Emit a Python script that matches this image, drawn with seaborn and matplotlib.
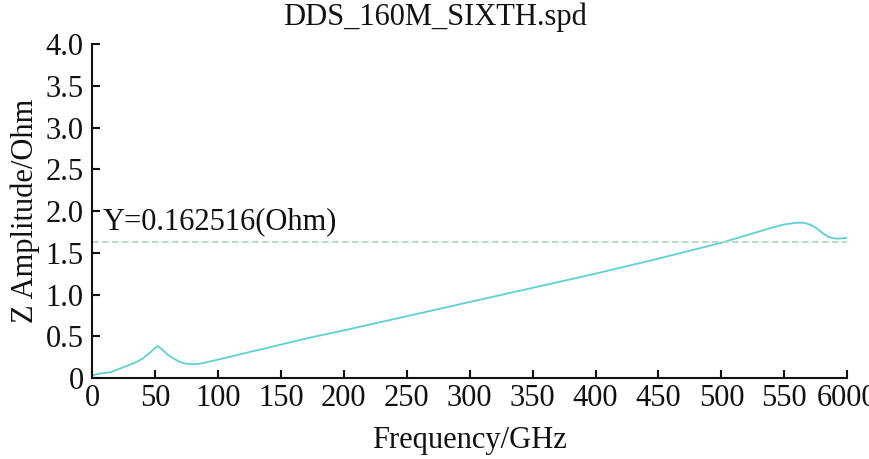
import matplotlib
matplotlib.use("Agg")
import matplotlib.pyplot as plt
import seaborn as sns
import pandas as pd

freq = [0, 5, 10, 15, 20, 25, 30, 35, 40, 45, 50, 52, 55, 60, 65, 70, 75, 80, 85, 90, 100,
        125, 150, 175, 200, 250, 300, 350, 400, 450, 500, 520, 540, 550, 560, 565, 570, 575, 580, 585, 590, 595, 600]
zamp = [0.03, 0.05, 0.06, 0.07, 0.10, 0.13, 0.16, 0.19, 0.23, 0.29, 0.36, 0.38, 0.35, 0.28, 0.23, 0.19, 0.17, 0.165, 0.17, 0.185, 0.22,
        0.31, 0.40, 0.49, 0.57, 0.74, 0.91, 1.08, 1.25, 1.43, 1.62, 1.71, 1.80, 1.84, 1.86, 1.86, 1.84, 1.80, 1.74, 1.69, 1.67, 1.67, 1.68]
ref_level = 1.625
ref_text = "Y=0.162516(Ohm)"
title = "DDS_160M_SIXTH.spd"
xticks = [0, 50, 100, 150, 200, 250, 300, 350, 400, 450, 500, 550, 600]
xticklabels = ["0", "50", "100", "150", "200", "250", "300", "350", "400", "450", "500", "550", "6000"]
yticks = [0, 0.5, 1.0, 1.5, 2.0, 2.5, 3.0, 3.5, 4.0]
yticklabels = ["0", "0.5", "1.0", "1.5", "2.0", "2.5", "3.0", "3.5", "4.0"]

sns.set_theme(style="ticks")
plt.rcParams['font.family'] = ['Liberation Serif', 'DejaVu Serif']

fs = 22
fig = plt.figure(figsize=(8.69, 4.59), dpi=100)
ax = fig.add_axes([0.106, 0.1765, 0.869, 0.7275])
df = pd.DataFrame({"Frequency": freq, "Z": zamp})
sns.lineplot(data=df, x="Frequency", y="Z", ax=ax, color="#5fd0d0", linewidth=1.3)
ax.axhline(ref_level, color="#a8d8bc", linestyle=(0, (4, 2)), linewidth=1.2)
ax.text(8, 1.70, ref_text, fontsize=fs, color="#111111", va="bottom", ha="left")

ax.set_xlim(0, 600)
ax.set_ylim(0, 4.0)
ax.set_xticks(xticks)
ax.set_xticklabels(xticklabels)
ax.set_yticks(yticks)
ax.set_yticklabels(yticklabels)
ax.tick_params(direction="in", length=6, width=1.5, labelsize=fs, colors="#111111")
ax.tick_params(axis="y", pad=6)
ax.tick_params(axis="x", pad=4)
for s in ["top", "right"]:
    ax.spines[s].set_visible(False)
for s in ["left", "bottom"]:
    ax.spines[s].set_linewidth(1.5)
    ax.spines[s].set_color("#111111")
ax.set_xlabel("Frequency/GHz", fontsize=fs, color="#111111", labelpad=10)
ax.set_ylabel("Z Amplitude/Ohm", fontsize=fs, color="#111111", labelpad=4)
fig.text(0.5, 0.995, title, fontsize=fs, ha="center", va="top", color="#111111")
fig.savefig("out.png", dpi=100)
